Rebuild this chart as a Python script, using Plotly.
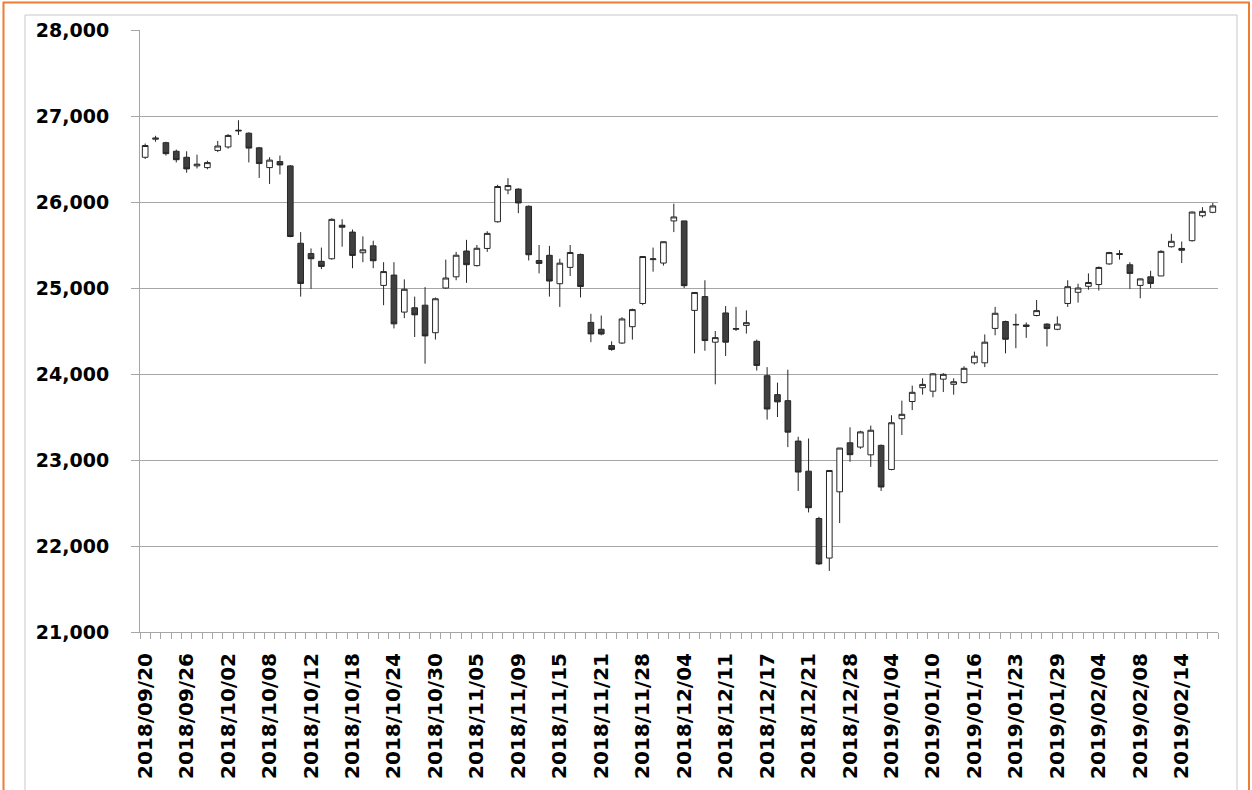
import plotly.graph_objects as go

dates = [
    "2018/09/20", "2018/09/21", "2018/09/24", "2018/09/25", "2018/09/26", "2018/09/27", "2018/09/28",
    "2018/10/01", "2018/10/02", "2018/10/03", "2018/10/04", "2018/10/05", "2018/10/08", "2018/10/09",
    "2018/10/10", "2018/10/11", "2018/10/12", "2018/10/15", "2018/10/16", "2018/10/17", "2018/10/18",
    "2018/10/19", "2018/10/22", "2018/10/23", "2018/10/24", "2018/10/25", "2018/10/26", "2018/10/29",
    "2018/10/30", "2018/10/31", "2018/11/01", "2018/11/02", "2018/11/05", "2018/11/06", "2018/11/07",
    "2018/11/08", "2018/11/09", "2018/11/12", "2018/11/13", "2018/11/14", "2018/11/15", "2018/11/16",
    "2018/11/19", "2018/11/20", "2018/11/21", "2018/11/23", "2018/11/26", "2018/11/27", "2018/11/28",
    "2018/11/29", "2018/11/30", "2018/12/03", "2018/12/04", "2018/12/06", "2018/12/07", "2018/12/10",
    "2018/12/11", "2018/12/12", "2018/12/13", "2018/12/14", "2018/12/17", "2018/12/18", "2018/12/19",
    "2018/12/20", "2018/12/21", "2018/12/24", "2018/12/26", "2018/12/27", "2018/12/28", "2018/12/31",
    "2019/01/02", "2019/01/03", "2019/01/04", "2019/01/07", "2019/01/08", "2019/01/09", "2019/01/10",
    "2019/01/11", "2019/01/14", "2019/01/15", "2019/01/16", "2019/01/17", "2019/01/18", "2019/01/22",
    "2019/01/23", "2019/01/24", "2019/01/25", "2019/01/28", "2019/01/29", "2019/01/30", "2019/01/31",
    "2019/02/01", "2019/02/04", "2019/02/05", "2019/02/06", "2019/02/07", "2019/02/08", "2019/02/11",
    "2019/02/12", "2019/02/13", "2019/02/14", "2019/02/15", "2019/02/19", "2019/02/20",
]

opens = [
    26520, 26730, 26690, 26590, 26520, 26420, 26400, 26600, 26640, 26835, 26800, 26630, 26400, 26470,
    26420, 25520, 25400, 25310, 25340, 25730, 25650, 25410, 25490, 25030, 25150, 24720, 24770, 24800,
    24480, 25000, 25130, 25430, 25260, 25460, 25770, 26140, 26150, 25950, 25320, 25380, 25050, 25240,
    25390, 24600, 24520, 24330, 24360, 24550, 24820, 25330, 25290, 25780, 25780, 24740, 24900, 24370,
    24710, 24520, 24565, 24380, 23980, 23760, 23690, 23220, 22870, 22320, 21860, 22630, 23200, 23150,
    23060, 23170, 22890, 23480, 23680, 23840, 23800, 23940, 23880, 23900, 24130, 24130, 24530, 24610,
    24570, 24570, 24680, 24580, 24520, 24820, 24950, 25020, 25040, 25280, 25400, 25270, 25030, 25130,
    25140, 25480, 25460, 25550, 25840, 25880,
]
highs = [
    26680, 26770, 26700, 26610, 26590, 26550, 26480, 26710, 26790, 26951, 26810, 26640, 26520, 26540,
    26430, 25650, 25460, 25470, 25810, 25800, 25680, 25600, 25550, 25300, 25300, 25100, 24900, 25010,
    24890, 25330, 25420, 25560, 25500, 25660, 26200, 26277, 26160, 25960, 25500, 25490, 25340, 25500,
    25400, 24700, 24680, 24380, 24660, 24760, 25370, 25470, 25540, 25980, 25780, 24950, 25090, 24500,
    24790, 24780, 24740, 24400, 24080, 23900, 24050, 23270, 23250, 22340, 22880, 23140, 23380, 23340,
    23400, 23180, 23520, 23690, 23865, 23950, 24010, 24010, 23950, 24090, 24260, 24460, 24780, 24620,
    24700, 24600, 24860, 24590, 24670, 25090, 25050, 25170, 25250, 25420, 25440, 25300, 25110, 25200,
    25440, 25630, 25540, 25890, 25940, 25990,
]
lows = [
    26500, 26700, 26540, 26460, 26340, 26390, 26380, 26580, 26620, 26780, 26460, 26280, 26210, 26320,
    25590, 24900, 24990, 25220, 25330, 25480, 25230, 25300, 25230, 24800, 24530, 24650, 24430, 24120,
    24400, 24990, 25090, 25060, 25250, 25420, 25760, 26090, 25870, 25320, 25170, 24900, 24780, 25140,
    24890, 24370, 24450, 24270, 24350, 24400, 24800, 25190, 25260, 25650, 25000, 24240, 24270, 23880,
    24210, 24500, 24470, 24040, 23470, 23500, 23150, 22640, 22390, 21780, 21710, 22267, 22980, 23130,
    22920, 22640, 22880, 23290, 23580, 23760, 23730, 23790, 23760, 23890, 24110, 24080, 24450, 24240,
    24300, 24420, 24670, 24320, 24510, 24780, 24830, 24980, 24970, 25270, 25330, 24990, 24880, 25000,
    25140, 25470, 25290, 25540, 25820, 25870,
]
closes = [
    26657, 26743, 26562, 26492, 26385, 26440, 26458, 26651, 26774, 26828, 26627, 26447, 26487, 26431,
    25599, 25053, 25340, 25251, 25798, 25707, 25379, 25444, 25317, 25191, 24583, 24985, 24688, 24443,
    24875, 25116, 25381, 25271, 25462, 25635, 26180, 26191, 25989, 25387, 25286, 25081, 25289, 25413,
    25017, 24466, 24465, 24286, 24640, 24749, 25366, 25339, 25538, 25826, 25027, 24948, 24389, 24423,
    24370, 24527, 24597, 24100, 23593, 23676, 23324, 22860, 22445, 21792, 22878, 23139, 23062, 23327,
    23346, 22686, 23433, 23531, 23787, 23879, 24002, 23996, 23910, 24066, 24207, 24370, 24706, 24404,
    24576, 24553, 24737, 24528, 24580, 25015, 25000, 25064, 25239, 25412, 25390, 25170, 25106, 25053,
    25426, 25543, 25439, 25883, 25891, 25954,
]

y_ticks = [21000, 22000, 23000, 24000, 25000, 26000, 27000, 28000]
label_step = 4

W, H = 1252, 790
ML, MR, MT, MB = 140, 34, 30, 158

positions = list(range(len(dates)))
tick_idx = positions[::label_step]

fig = go.Figure()
fig.add_trace(go.Candlestick(
    x=positions, open=opens, high=highs, low=lows, close=closes,
    increasing=dict(fillcolor="#ffffff", line=dict(color="#262626", width=1)),
    decreasing=dict(fillcolor="#404040", line=dict(color="#262626", width=1)),
    whiskerwidth=0,
    showlegend=False,
))


def px_x(p):
    return (p - ML) / (W - ML - MR)


def px_y(p):
    return (H - MB - p) / (H - MT - MB)


shapes = [
    dict(type="rect", xref="paper", yref="paper",
         x0=px_x(25), x1=px_x(1237), y0=px_y(15), y1=px_y(805),
         line=dict(color="#c8c8c8", width=1), fillcolor="rgba(0,0,0,0)", layer="below"),
    dict(type="rect", xref="paper", yref="paper",
         x0=px_x(3.5), x1=px_x(1249), y0=px_y(2.5), y1=px_y(810),
         line=dict(color="#ED7D31", width=2), fillcolor="rgba(0,0,0,0)", layer="below"),
]

tick_font = dict(family="DejaVu Sans", size=19, color="#000000", weight="bold")

fig.update_layout(
    width=W, height=H,
    margin=dict(l=ML, r=MR, t=MT, b=MB, pad=0),
    paper_bgcolor="#ffffff",
    plot_bgcolor="#ffffff",
    shapes=shapes,
    boxgap=0.22,
    xaxis=dict(
        range=[-0.5, len(dates) - 0.5],
        rangeslider=dict(visible=False),
        tickmode="array",
        tickvals=tick_idx,
        ticktext=[dates[i] for i in tick_idx],
        tickangle=-90,
        ticks="",
        tickfont=dict(family="DejaVu Sans", size=20, color="#000000", weight="bold"),
        ticklabelstandoff=12,
        showgrid=False,
        showline=True, linecolor="#a6a6a6", linewidth=1,
        zeroline=False,
        minor=dict(ticks="outside", ticklen=6, tickcolor="#a6a6a6", tickwidth=1,
                   tick0=-0.5, dtick=1, showgrid=False),
    ),
    yaxis=dict(
        range=[y_ticks[0], y_ticks[-1]],
        tickmode="array",
        tickvals=y_ticks,
        ticktext=[f"{v:,}" for v in y_ticks],
        tickfont=tick_font,
        ticks="outside", ticklen=8, tickcolor="#a6a6a6", tickwidth=1,
        ticklabelstandoff=18,
        showgrid=True, gridcolor="#a6a6a6", gridwidth=1,
        showline=True, linecolor="#a6a6a6", linewidth=1,
        zeroline=False,
    ),
)

fig.write_html(
    "out.html",
    config={"displayModeBar": False},
    post_script="document.body.style.margin='0';document.body.style.overflow='hidden';",
)
